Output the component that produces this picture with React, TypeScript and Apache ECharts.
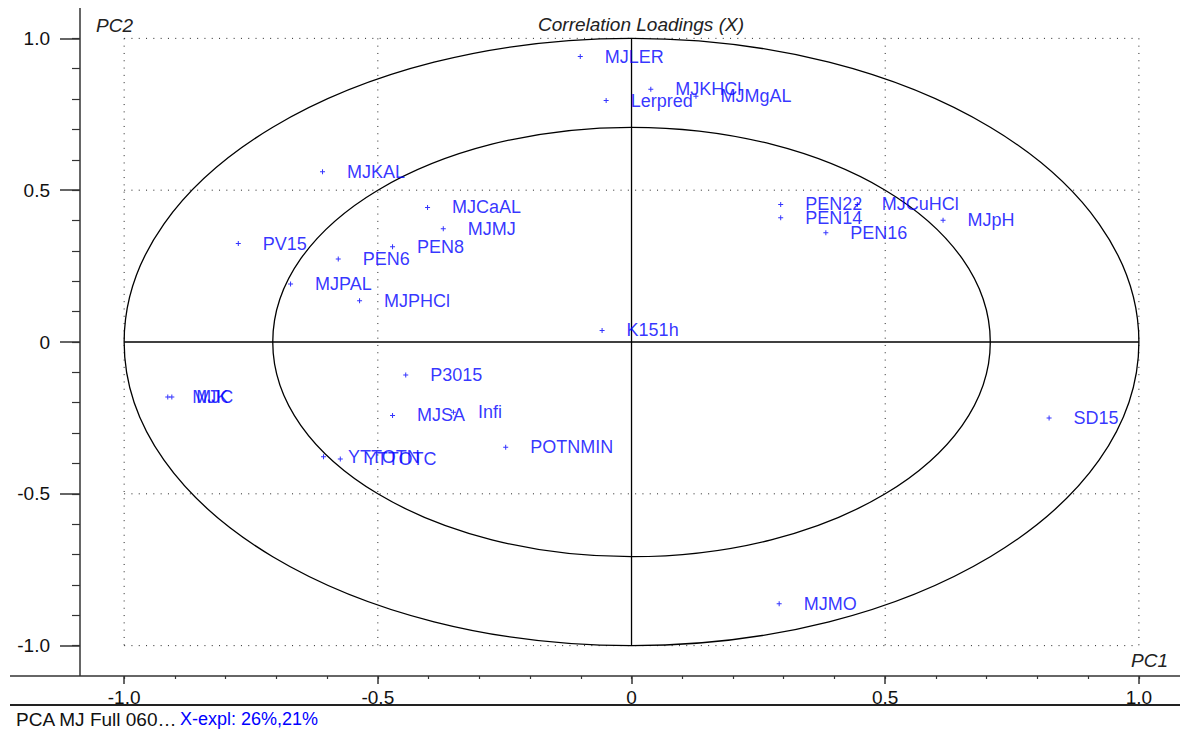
import React, { useEffect, useRef } from "react";
import * as echarts from "echarts";

// ---- data ----
const names = [
  "MJLER", "MJKHCl", "MJMgAL", "Lerpred", "MJKAL", "MJCaAL", "MJMJ", "PEN8",
  "PV15", "PEN6", "MJPAL", "MJPHCl", "PEN22", "PEN14", "PEN16", "MJCuHCl",
  "MJpH", "K151h", "P3015", "MJSA", "Infi", "POTNMIN", "YTTOTN", "YTTOTC",
  "MJK", "MJC", "SD15", "MJMO",
];
const pc1 = [
  -0.101, 0.038, 0.127, -0.05, -0.609, -0.402, -0.371, -0.471,
  -0.775, -0.578, -0.672, -0.536, 0.294, 0.294, 0.383, 0.445,
  0.614, -0.058, -0.445, -0.471, -0.351, -0.248, -0.607, -0.574,
  -0.914, -0.906, 0.823, 0.291,
];
const pc2 = [
  0.94, 0.832, 0.809, 0.795, 0.561, 0.443, 0.373, 0.314,
  0.324, 0.273, 0.191, 0.136, 0.453, 0.409, 0.36, 0.453,
  0.401, 0.038, -0.109, -0.242, -0.231, -0.347, -0.378, -0.385,
  -0.181, -0.181, -0.25, -0.862,
];
const majorTicks = [-1, -0.5, 0, 0.5, 1];
const minorTicks = [
  -1, -0.9, -0.8, -0.7, -0.6, -0.5, -0.4, -0.3, -0.2, -0.1, 0,
  0.1, 0.2, 0.3, 0.4, 0.5, 0.6, 0.7, 0.8, 0.9, 1,
];
const dottedValues = [-1, -0.5, 0.5, 1];
const innerRadius = 0.7071;
const titleText = "Correlation Loadings (X)";
const xName = "PC1";
const yName = "PC2";
const footerName = "PCA MJ Full 060…";
const footerExpl = "X-expl: 26%,21%";

const X_MIN = -1.087;
const X_MAX = 1.081;
const Y_MIN = -1.1;
const Y_MAX = 1.1;

const FONT = "'Liberation Sans', Arial, sans-serif";
const BLUE = "#0000ff";

const fmt = (v: number) => (Math.abs(v) < 1e-9 ? "0" : v.toFixed(1));

export default function App() {
  const ref = useRef<HTMLDivElement>(null);
  useEffect(() => {
    const chart = echarts.init(ref.current!, null, { renderer: "svg" });
    const axisLabelStyle = { fontSize: 19, color: "#111", fontFamily: FONT };
    const noLine = { show: false, onZero: false };
    const option: any = {
      animation: false,
      grid: { left: 80, right: 0, top: 8, bottom: 55, containLabel: false },
      xAxis: [
        {
          type: "value", min: X_MIN, max: X_MAX, position: "bottom",
          axisLine: noLine, splitLine: { show: false },
          axisTick: { show: true, customValues: majorTicks, length: 8, lineStyle: { color: "#333", width: 1.5 } },
          axisLabel: { show: true, customValues: majorTicks, formatter: fmt, margin: 12, ...axisLabelStyle },
        },
        {
          type: "value", min: X_MIN, max: X_MAX, position: "bottom", offset: 0,
          axisLine: noLine, splitLine: { show: false },
          axisTick: { show: true, customValues: minorTicks, length: 3, lineStyle: { color: "#333", width: 1.2 } },
          axisLabel: { show: false },
        },
      ],
      yAxis: [
        {
          type: "value", min: Y_MIN, max: Y_MAX, position: "left",
          axisLine: noLine, splitLine: { show: false },
          axisTick: { show: true, customValues: majorTicks, length: 20, lineStyle: { color: "#333", width: 1.5 } },
          axisLabel: { show: true, customValues: majorTicks, formatter: fmt, margin: 30, ...axisLabelStyle },
        },
        {
          type: "value", min: Y_MIN, max: Y_MAX, position: "left", offset: 0,
          axisLine: noLine, splitLine: { show: false },
          axisTick: { show: true, customValues: minorTicks, length: 8, lineStyle: { color: "#333", width: 1.2 } },
          axisLabel: { show: false },
        },
      ],
      series: [
        {
          type: "scatter",
          xAxisIndex: 0,
          yAxisIndex: 0,
          z: 5,
          symbol: "path://M2,0H3V2H5V3H3V5H2V3H0V2H2Z",
          symbolSize: 5,
          itemStyle: { color: BLUE },
          label: {
            show: true, position: "right", distance: 22, formatter: "{b}",
            fontSize: 18, color: BLUE, fontFamily: FONT,
          },
          emphasis: { disabled: true },
          data: names.map((n, i) => ({ name: n, value: [pc1[i], pc2[i]] })),
        },
      ],
    };
    chart.setOption(option);

    const P = (x: number, y: number) => chart.convertToPixel({ gridIndex: 0 }, [x, y]) as number[];
    const c = P(0, 0);
    const p1 = P(1, 1);
    const rx = p1[0] - c[0];
    const ry = c[1] - p1[1];
    const left = P(-1, 0)[0];
    const right = P(1, 0)[0];
    const top = P(0, 1)[1];
    const bottom = P(0, -1)[1];
    const blackLine = { stroke: "#000", lineWidth: 1.3 };
    const dotted = { stroke: "#222", lineWidth: 1, lineDash: [1, 6.3] };
    const g: any[] = [];
    dottedValues.forEach((v) => {
      const py = P(0, v)[1];
      const px = P(v, 0)[0];
      g.push({ type: "line", silent: true, z: 1, shape: { x1: left, y1: py, x2: right, y2: py }, style: dotted });
      g.push({ type: "line", silent: true, z: 1, shape: { x1: px, y1: top, x2: px, y2: bottom }, style: dotted });
    });
    g.push({ type: "line", silent: true, z: 2, shape: { x1: left, y1: c[1], x2: right, y2: c[1] }, style: blackLine });
    g.push({ type: "line", silent: true, z: 2, shape: { x1: c[0], y1: top, x2: c[0], y2: bottom }, style: blackLine });
    g.push({ type: "ellipse", silent: true, z: 2, shape: { cx: c[0], cy: c[1], rx, ry }, style: { fill: "none", ...blackLine } });
    g.push({ type: "ellipse", silent: true, z: 2, shape: { cx: c[0], cy: c[1], rx: rx * innerRadius, ry: ry * innerRadius }, style: { fill: "none", ...blackLine } });
    // frame
    g.push({ type: "line", silent: true, z: 3, shape: { x1: 80, y1: 8, x2: 80, y2: 676 }, style: { stroke: "#333", lineWidth: 1.5 } });
    g.push({ type: "line", silent: true, z: 3, shape: { x1: 10, y1: 676, x2: 1180, y2: 676 }, style: { stroke: "#333", lineWidth: 1.5 } });
    g.push({ type: "line", silent: true, z: 3, shape: { x1: 10, y1: 705, x2: 1180, y2: 705 }, style: { stroke: "#222", lineWidth: 2 } });
    // texts
    g.push({ type: "text", silent: true, z: 4, x: 641, y: 24, style: { text: titleText, font: `italic 19px ${FONT}`, fill: "#222", align: "center", verticalAlign: "middle" } });
    g.push({ type: "text", silent: true, z: 4, x: 96, y: 25, style: { text: yName, font: `italic 19px ${FONT}`, fill: "#222", align: "left", verticalAlign: "middle" } });
    g.push({ type: "text", silent: true, z: 4, x: 1168, y: 660, style: { text: xName, font: `italic 19px ${FONT}`, fill: "#222", align: "right", verticalAlign: "middle" } });
    g.push({ type: "text", silent: true, z: 4, x: 16, y: 719, style: { text: footerName, font: `19px ${FONT}`, fill: "#111", align: "left", verticalAlign: "middle" } });
    g.push({ type: "text", silent: true, z: 4, x: 180, y: 719, style: { text: footerExpl, font: `18px ${FONT}`, fill: BLUE, align: "left", verticalAlign: "middle" } });
    chart.setOption({ graphic: g });

    return () => chart.dispose();
  }, []);
  return (
    <div
      ref={ref}
      style={{ position: "fixed", left: 0, top: 0, width: 1180, height: 731, background: "#fff" }}
    />
  );
}
